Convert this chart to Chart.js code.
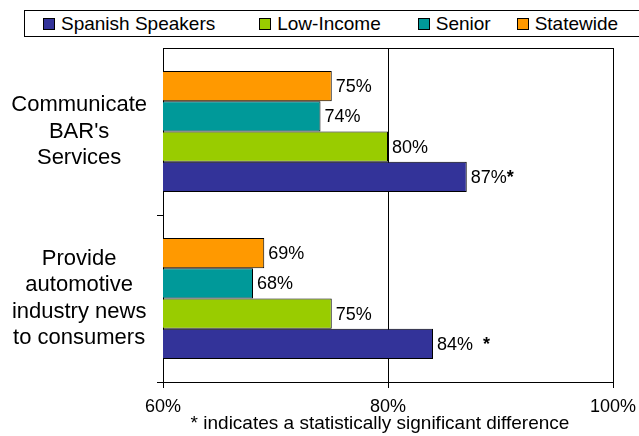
<!DOCTYPE html>
<html>
<head>
<meta charset="utf-8">
<script src="https://cdn.jsdelivr.net/npm/chart.js@4/dist/chart.umd.min.js"></script>
<style>
  html, body { margin: 0; padding: 0; background: #fff; }
  #wrap { position: relative; width: 639px; height: 436px; font-family: 'Liberation Sans', Arial, sans-serif; }
  #legend {
    position: absolute; left: 24px; top: 10px; width: 610px; height: 25px;
    border: 1px solid #000; background: #fff;
    display: flex; align-items: center; padding-left: 18px; box-sizing: content-box;
    font-size: 19px; color: #000;
  }
  .legend-item { display: flex; align-items: center; white-space: nowrap; }
  .legend-item:nth-child(1) { margin-right: 44px; }
  .legend-item:nth-child(2) { margin-right: 37px; }
  .legend-item:nth-child(3) { margin-right: 26px; }
  .legend-box { width: 10px; height: 10px; border: 1px solid #000; margin-right: 6px; }
</style>
</head>
<body>
<div id="wrap">
  <canvas id="chart" width="639" height="436"></canvas>
  <div id="legend"></div>
</div>
<script>
/* ── Data ── */
const categories = [
    ['Communicate', "BAR's", 'Services'],
    ['Provide', 'automotive', 'industry news', 'to consumers'],
];
const spanishSpeakers = [87, 84];
const lowIncome       = [80, 75];
const senior          = [74, 68];
const statewide       = [75, 69];
const spanishSig      = ['*', '  *'];
const xTicks          = [60, 80, 100];
const footnote        = '* indicates a statistically significant difference';

const FONT = "'Liberation Sans', Arial, sans-serif";

// legend order (left to right)
const legendItems = [
    { label: 'Spanish Speakers', color: '#333399' },
    { label: 'Low-Income',       color: '#99CC00' },
    { label: 'Senior',           color: '#009999' },
    { label: 'Statewide',        color: '#FF9900' },
];

document.getElementById('legend').innerHTML = legendItems.map(({ label, color }) => `
    <div class="legend-item">
        <span class="legend-box" style="background:${color}"></span>
        <span>${label}</span>
    </div>`).join('');

const valueLabels = {
    id: 'valueLabels',
    afterDatasetsDraw(chart) {
        const { ctx } = chart;
        ctx.save();
        ctx.textBaseline = 'middle';
        ctx.textAlign    = 'left';
        ctx.fillStyle    = '#000';
        chart.data.datasets.forEach((ds, i) => {
            chart.getDatasetMeta(i).data.forEach((bar, j) => {
                const text = ds.data[j] + '%';
                const x = bar.x + 4;
                ctx.font = `18px ${FONT}`;
                ctx.fillText(text, x, bar.y + 1);
                if (ds.sig && ds.sig[j]) {
                    const w = ctx.measureText(text).width;
                    ctx.font = `bold 18px ${FONT}`;
                    ctx.fillText(ds.sig[j], x + w, bar.y + 1);
                }
            });
        });
        // footnote
        const { left, right } = chart.chartArea;
        ctx.font = `19px ${FONT}`;
        ctx.textAlign = 'center';
        ctx.fillText(footnote, (left + right) / 2 - 8, chart.height - 12);
        ctx.restore();
    }
};

new Chart(document.getElementById('chart').getContext('2d'), {
    type: 'bar',
    plugins: [valueLabels],
    data: {
        labels: categories,
        datasets: [
            { label: 'Statewide',        data: statewide,       backgroundColor: '#FF9900' },
            { label: 'Senior',           data: senior,          backgroundColor: '#009999' },
            { label: 'Low-Income',       data: lowIncome,       backgroundColor: '#99CC00' },
            { label: 'Spanish Speakers', data: spanishSpeakers, backgroundColor: '#333399', sig: spanishSig },
        ].map(d => ({
            ...d,
            borderColor:        '#000',
            borderWidth:        1,
            borderSkipped:      false,
            barPercentage:      1,
            categoryPercentage: 0.725,
        })),
    },
    options: {
        indexAxis:  'y',
        responsive: false,
        animation:  false,
        events:     [],
        layout: { padding: { top: 48, right: 26, left: 0, bottom: 0 } },
        plugins: {
            legend:  { display: false },
            tooltip: { enabled: false },
        },
        scales: {
            x: {
                min: xTicks[0],
                max: xTicks[xTicks.length - 1],
                afterBuildTicks: s => { s.ticks = xTicks.map(v => ({ value: v })); },
                afterFit: s => { s.height = 54; s.paddingLeft = 0; s.paddingRight = 0; },
                ticks: {
                    color: '#000',
                    font: { family: FONT, size: 18 },
                    padding: 8,
                    maxRotation: 0,
                    callback: v => v + '%',
                },
                grid:   { color: '#000', lineWidth: 1, tickLength: 6 },
                border: { color: '#000', width: 1 },
            },
            y: {
                afterFit: s => { s.width = 163; s.paddingTop = 0; s.paddingBottom = 0; },
                ticks: {
                    color: '#000',
                    font: { family: FONT, size: 22, lineHeight: 1.2 },
                    padding: 10,
                    crossAlign: 'center',
                },
                grid: {
                    offset: true,
                    drawOnChartArea: true,
                    tickLength: 6,
                    color:     c => c.index === 0 ? '#000' : 'transparent',
                    tickColor: c => c.index === 0 ? 'transparent' : '#000',
                },
                border: { color: '#000', width: 1 },
            },
        },
    },
});
</script>
</body>
</html>
